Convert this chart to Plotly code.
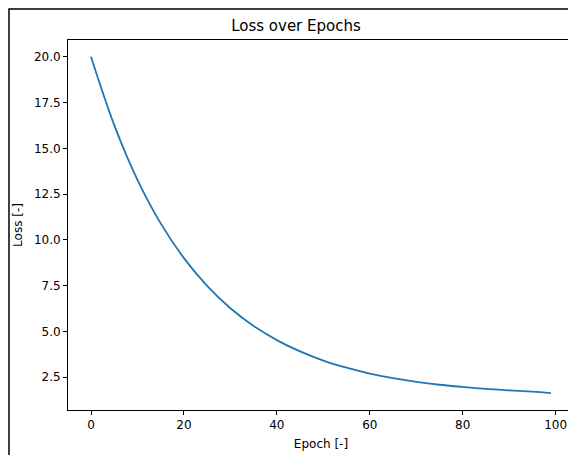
import plotly.graph_objects as go

epochs = [0,5,10,15,20,25,30,35,40,45,50,55,60,65,70,75,80,85,90,95,99]
loss = [20.0,16.27,13.28,10.90,9.00,7.48,6.26,5.29,4.52,3.90,3.40,3.01,2.69,2.44,2.24,2.08,1.96,1.85,1.77,1.70,1.62]

fig = go.Figure(go.Scatter(x=epochs, y=loss, mode="lines", line=dict(color="#1f77b4", width=1.8, shape="spline")))
ax = dict(showgrid=False, zeroline=False, showline=True, linecolor="black", linewidth=1, mirror=True,
          ticks="outside", ticklen=4, tickcolor="black", tickfont=dict(size=12, color="black"), automargin=False)
fig.update_layout(
    width=576, height=455, margin=dict(l=60, r=10, t=32, b=53, autoexpand=False),
    plot_bgcolor="white", paper_bgcolor="white",
    font=dict(family="DejaVu Sans", size=12, color="black"),
    title=dict(text="Loss over Epochs", x=0.5, xanchor="center", y=1-18/455, yanchor="middle", yref="container",
               font=dict(size=15)),
    xaxis=dict(ax, range=[-4.95, 103.95], tickvals=[0,20,40,60,80,100],
               title=dict(text="Epoch [-]", standoff=8, font=dict(size=12))),
    yaxis=dict(ax, range=[0.70, 20.92], tickvals=[2.5,5,7.5,10,12.5,15,17.5,20], tickformat=".1f",
               title=dict(text="Loss [-]", standoff=8, font=dict(size=12))),
    showlegend=False,
    shapes=[dict(type="rect", xref="paper", yref="paper",
                 x0=-59/506, x1=(575-60)/506, y0=-(453/370-1) * 1 if False else -(52/370), y1=1+31/370,
                 line=dict(color="black", width=1.5))],
)
fig.write_html("out.html")
